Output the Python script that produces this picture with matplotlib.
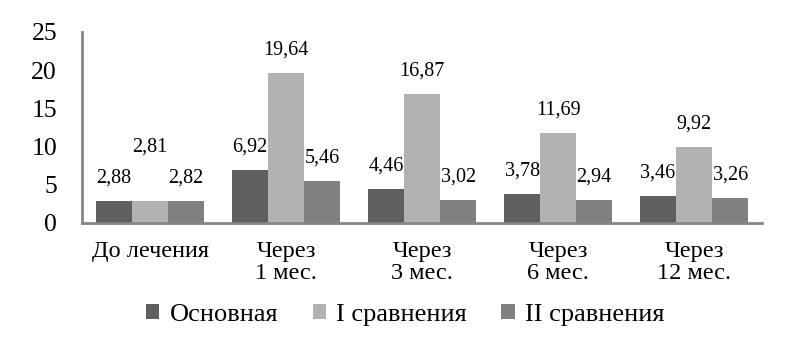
import numpy as np
import matplotlib.pyplot as plt

categories = ["До лечения", "Через\n1 мес.", "Через\n3 мес.", "Через\n6 мес.", "Через\n12 мес."]
series_names = ["Основная", "I сравнения", "II сравнения"]
osnovnaya = [2.88, 6.92, 4.46, 3.78, 3.46]
sravn_1 = [2.81, 19.64, 16.87, 11.69, 9.92]
sravn_2 = [2.82, 5.46, 3.02, 2.94, 3.26]

colors = ["#5f5f5f", "#b2b2b2", "#808080"]

plt.rcParams['font.family'] = ['Liberation Serif', 'DejaVu Serif']

fig = plt.figure(figsize=(8.04, 3.54), dpi=100)
ax = fig.add_axes([0.102, 0.371, 0.846, 0.539])

x = np.arange(len(categories))
w = 0.265
data = [osnovnaya, sravn_1, sravn_2]

for i, (vals, name, c) in enumerate(zip(data, series_names, colors)):
    xs = x + (i - 1) * w
    ax.bar(xs, vals, width=w, color=c, label=name)
    for j, (xx, v) in enumerate(zip(xs, vals)):
        # подпись 2,81 смещена выше, чтобы не налезать на соседние
        off = 39 if (i == 1 and j == 0) else 16.5
        ax.annotate(f"{v:.2f}".replace('.', ','), (xx, v), xytext=(0, off),
                    textcoords='offset points', ha='center', va='center',
                    fontsize=14.5)

ax.set_xlim(-0.5, len(categories) - 0.5)
ax.set_ylim(0, 25)
ax.set_yticks([0, 5, 10, 15, 20, 25])
ax.set_xticks(x)
ax.set_xticklabels(categories, fontsize=17.5, linespacing=1.05)
ax.tick_params(axis='both', length=0)
ax.tick_params(axis='y', pad=18, labelsize=18.5)
ax.tick_params(axis='x', pad=13)

for s in ['top', 'right']:
    ax.spines[s].set_visible(False)
for s in ['left', 'bottom']:
    ax.spines[s].set_color('#868686')
    ax.spines[s].set_linewidth(2)

ax.legend(loc='center', bbox_to_anchor=(0.504, 1 - 315 / 354), bbox_transform=fig.transFigure,
          ncol=3, frameon=False, fontsize=19, handlelength=0.5, handleheight=0.5,
          handletextpad=0.4, columnspacing=1.3)

plt.savefig("out.png", dpi=100)
plt.close()
